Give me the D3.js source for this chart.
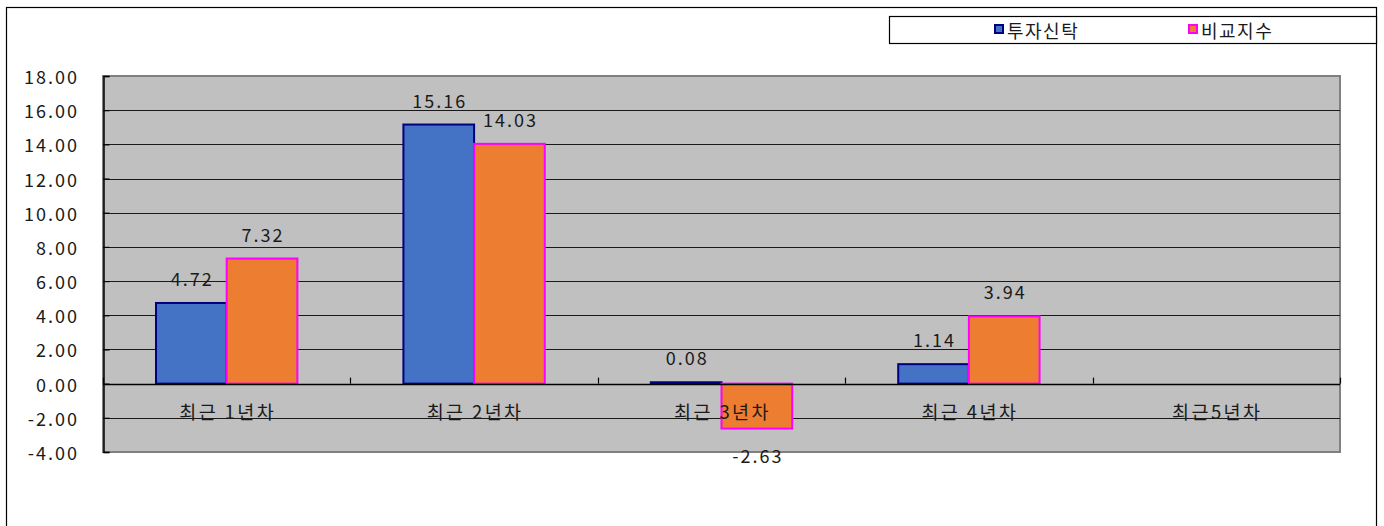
<!DOCTYPE html>
<html>
<head>
<meta charset="utf-8">
<script src="https://cdn.jsdelivr.net/npm/d3@7/dist/d3.min.js"></script>
<style>
    html, body { margin: 0; padding: 0; background: #fff; }
    svg { display: block; }
    text { font-family: "Noto Sans CJK KR", "Noto Sans", sans-serif; fill: #1a1a1a; }
</style>
</head>
<body>
<svg id="chart" width="1384" height="526"></svg>
<script>
// 데이터
let categories = ["최근 1년차", "최근 2년차", "최근 3년차", "최근 4년차", "최근5년차"];
let seriesNames = ["투자신탁", "비교지수"];
let fundValues = [4.72, 15.16, 0.08, 1.14, null];
let benchValues = [7.32, 14.03, -2.63, 3.94, null];
let yTicks = [-4, -2, 0, 2, 4, 6, 8, 10, 12, 14, 16, 18];

let fills = ["#4472C4", "#ED7D31"];
let strokes = ["#000080", "#FF00FF"];

let numSize = 18, numSpacing = 2;

let svg = d3.select("#chart");

let plot = { left: 103, right: 1340, top: 76, bottom: 452 };

let x = d3.scaleBand()
    .domain(categories)
    .range([plot.left, plot.right])
    .paddingInner(0)
    .paddingOuter(0);

// gap width 150% -> padding outer 0.75 on each side
let xSub = d3.scaleBand()
    .domain(seriesNames)
    .range([0, x.bandwidth()])
    .paddingInner(0)
    .paddingOuter(0.75);

let y = d3.scaleLinear()
    .domain([d3.min(yTicks), d3.max(yTicks)])
    .range([plot.bottom, plot.top]);

// outer frame
svg.append("rect")
    .attr("x", 6.5)
    .attr("y", 7.5)
    .attr("width", 1370)
    .attr("height", 600)
    .attr("fill", "none")
    .attr("stroke", "#000")
    .attr("stroke-width", 1.2);

// plot area
svg.append("rect")
    .attr("x", plot.left)
    .attr("y", plot.top)
    .attr("width", plot.right - plot.left)
    .attr("height", plot.bottom - plot.top)
    .attr("fill", "#C0C0C0")
    .attr("stroke", "#808080")
    .attr("stroke-width", 2);

// gridlines
svg.append("g")
    .selectAll("line")
    .data(yTicks.filter(t => t !== d3.min(yTicks) && t !== d3.max(yTicks)))
    .join("line")
    .attr("x1", plot.left)
    .attr("x2", plot.right)
    .attr("y1", d => Math.round(y(d)) + 0.5)
    .attr("y2", d => Math.round(y(d)) + 0.5)
    .attr("stroke", "#1a1a1a")
    .attr("stroke-width", 1);

// bars
let rows = categories.map((c, i) => ({ cat: c, values: [fundValues[i], benchValues[i]] }));

let groups = svg.append("g")
    .selectAll("g")
    .data(rows)
    .join("g")
    .attr("transform", d => "translate(" + x(d.cat) + ",0)");

groups.selectAll("rect")
    .data(d => d.values.map((v, j) => ({ name: seriesNames[j], v: v, j: j })).filter(e => e.v !== null))
    .join("rect")
    .attr("x", e => xSub(e.name))
    .attr("y", e => y(Math.max(0, e.v)))
    .attr("width", xSub.bandwidth())
    .attr("height", e => Math.abs(y(e.v) - y(0)))
    .attr("fill", e => fills[e.j])
    .attr("stroke", e => strokes[e.j])
    .attr("stroke-width", 2);

// x axis line with inside ticks
let xAxis = svg.append("g");
xAxis.append("line")
    .attr("x1", plot.left)
    .attr("x2", plot.right)
    .attr("y1", Math.round(y(0)) + 0.5)
    .attr("y2", Math.round(y(0)) + 0.5)
    .attr("stroke", "#000")
    .attr("stroke-width", 1.5);
xAxis.selectAll(".tick")
    .data(categories.map(c => x(c)).concat([plot.right]))
    .join("line")
    .attr("class", "tick")
    .attr("x1", d => Math.round(d) + 0.5)
    .attr("x2", d => Math.round(d) + 0.5)
    .attr("y1", y(0))
    .attr("y2", y(0) - 6)
    .attr("stroke", "#000")
    .attr("stroke-width", 1.2);

// y axis
let yAxis = svg.append("g")
    .attr("transform", "translate(" + (plot.left + 0.5) + ",0)")
    .call(d3.axisRight(y).tickValues(yTicks).tickSize(6).tickFormat(""));
yAxis.select(".domain").attr("stroke", "#000").attr("stroke-width", 1.5);
yAxis.selectAll(".tick line").attr("stroke", "#000").attr("stroke-width", 1.2);

svg.append("g")
    .selectAll("text")
    .data(yTicks)
    .join("text")
    .attr("x", 77 + numSpacing)
    .attr("y", d => y(d))
    .attr("text-anchor", "end")
    .attr("dominant-baseline", "central")
    .attr("font-size", numSize)
    .attr("letter-spacing", numSpacing)
    .text(d => d3.format(".2f")(d).replace("−", "-"));

// value labels
groups.selectAll("text.val")
    .data(d => d.values.map((v, j) => ({ name: seriesNames[j], v: v, j: j })).filter(e => e.v !== null))
    .join("text")
    .attr("class", "val")
    .attr("x", e => xSub(e.name) + xSub.bandwidth() / 2 + numSpacing / 2)
    .attr("y", e => e.v >= 0 ? y(e.v) - 25 : y(e.v) + 26)
    .attr("text-anchor", "middle")
    .attr("dominant-baseline", "central")
    .attr("font-size", numSize)
    .attr("letter-spacing", numSpacing)
    .text(e => d3.format(".2f")(e.v).replace("−", "-"));

// category labels (drawn on top of bars)
svg.append("g")
    .selectAll("text")
    .data(categories)
    .join("text")
    .attr("x", d => x(d) + x.bandwidth() / 2 + 1)
    .attr("y", y(0) + 27)
    .attr("text-anchor", "middle")
    .attr("dominant-baseline", "central")
    .attr("font-size", 18.5)
    .attr("letter-spacing", 2.4)
    .text(d => d);

// legend
let legend = svg.append("g");
legend.append("rect")
    .attr("x", 889.5)
    .attr("y", 16.5)
    .attr("width", 487)
    .attr("height", 27)
    .attr("fill", "#fff")
    .attr("stroke", "#000")
    .attr("stroke-width", 1.2);

let legendX = d3.scalePoint().domain(seriesNames).range([995, 1189]);

let items = legend.selectAll("g")
    .data(seriesNames)
    .join("g")
    .attr("transform", d => "translate(" + legendX(d) + ",0)");
items.append("rect")
    .attr("x", 0)
    .attr("y", 25)
    .attr("width", 8)
    .attr("height", 8)
    .attr("fill", (d, i) => fills[i])
    .attr("stroke", (d, i) => strokes[i])
    .attr("stroke-width", 2);
items.append("text")
    .attr("x", 12)
    .attr("y", 29.5)
    .attr("dominant-baseline", "central")
    .attr("font-size", 18)
    .attr("letter-spacing", 1.5)
    .text(d => d);
</script>
</body>
</html>
